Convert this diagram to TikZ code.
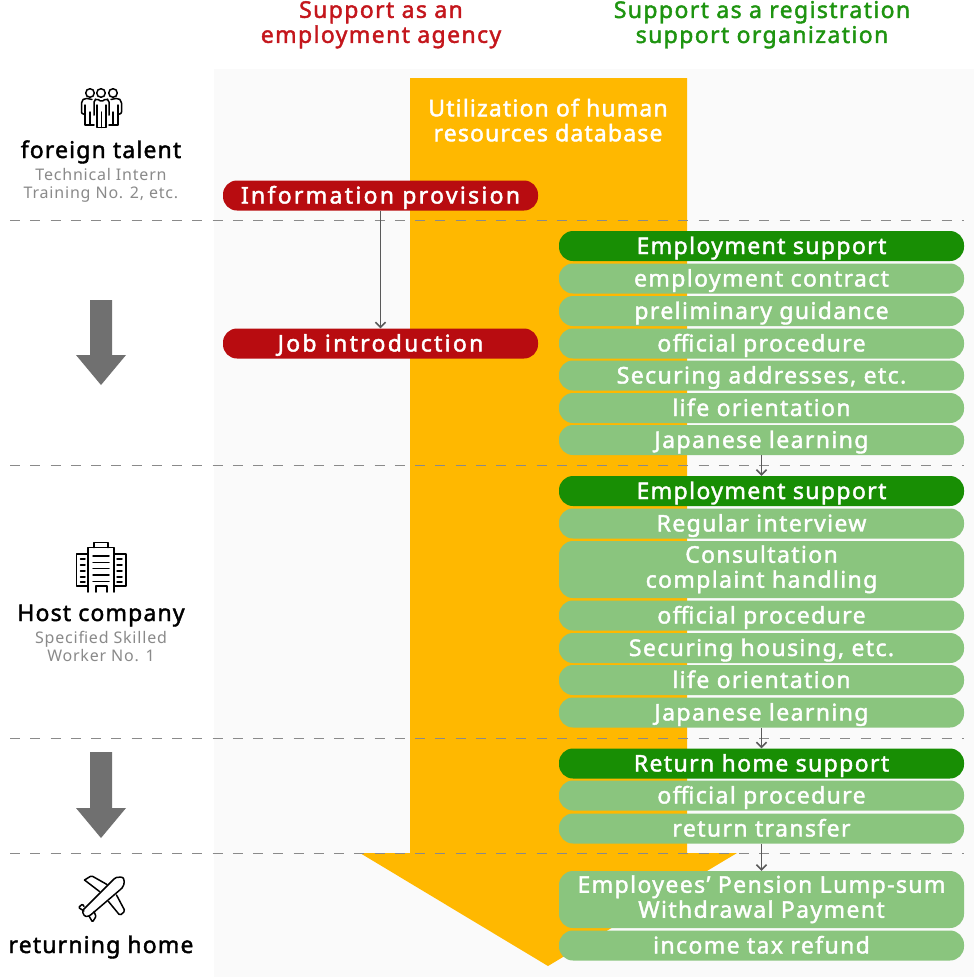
\documentclass[tikz,border=0pt]{standalone}
\usepackage{fontspec}
\usetikzlibrary{arrows.meta}
\setmainfont{Noto Sans}[LetterSpace=5]
\newfontfamily\barfont{Noto Sans}[LetterSpace=6,FakeBold=1.8]
\newfontfamily\redfont{Noto Sans}[LetterSpace=10,FakeBold=2]
\newfontfamily\sidefont{Noto Sans}[LetterSpace=5,FakeBold=1.8]
\definecolor{panelgray}{HTML}{FAFAFA}
\definecolor{dbyellow}{HTML}{FFB800}
\definecolor{agencyred}{HTML}{B80C10}
\definecolor{supportgreen}{HTML}{188E04}
\definecolor{taskgreen}{HTML}{8AC57E}
\definecolor{headred}{HTML}{C4161C}
\definecolor{headgreen}{HTML}{1E9410}
\definecolor{blockgray}{HTML}{707070}
\definecolor{subgray}{HTML}{8A8A8A}
\tikzset{
  barbase/.style={rectangle,rounded corners=14,inner sep=0pt,align=center,text=white,
    font=\barfont\fontsize{23}{25}\selectfont,
    execute at begin node=\rule[-6pt]{0pt}{28pt}},
  redbar/.style={barbase,font=\redfont\fontsize{23}{25}\selectfont,fill=agencyred,minimum width=315,minimum height=30},
  headbar/.style={barbase,fill=supportgreen,minimum width=405,minimum height=30},
  taskbar/.style={barbase,fill=taskgreen,minimum width=405,minimum height=30},
  tallbar/.style={taskbar,minimum height=57,execute at begin node=\rule[-6pt]{0pt}{32pt}},
  collabel/.style={align=center,inner sep=0pt,font=\barfont\fontsize{23}{25}\selectfont,
    execute at begin node=\rule[-6pt]{0pt}{30pt}},
  sidelabel/.style={inner sep=0pt,text=black,font=\sidefont\fontsize{23}{25}\selectfont,
    execute at begin node=\rule[-6pt]{0pt}{28pt}},
  sublabel/.style={align=center,inner sep=0pt,text=subgray,font=\fontsize{16}{18}\selectfont},
  sepline/.style={draw=subgray,line width=1.2pt,dash pattern=on 10.2pt off 10.05pt},
  flowline/.style={draw=black!65,line width=1.6pt,-{Straight Barb[length=5pt,width=10pt]}},
  iconline/.style={draw=black,line width=1.5pt,line join=round,line cap=round}
}
\begin{document}
\begin{tikzpicture}[x=1pt,y=-1pt]
\useasboundingbox (0,0) rectangle (974,977);
\fill[white] (0,0) rectangle (974,977);
\fill[panelgray] (214,69) rectangle (974,977);
\fill[dbyellow] (410,78) -- (687,78) -- (687,853) -- (737,853) -- (548,966) -- (360,853) -- (410,853) -- cycle;

\draw[sepline] (10,220.5) -- (964,220.5);
\draw[sepline] (10,465.5) -- (964,465.5);
\draw[sepline] (10,738.5) -- (964,738.5);
\draw[sepline] (10,853.5) -- (964,853.5);

\fill[blockgray] (90,300) -- (112,300) -- (112,355) -- (126,355) -- (101,385) -- (76,355) -- (90,355) -- cycle;
\fill[blockgray] (90,752) -- (112,752) -- (112,808) -- (126,808) -- (101,838) -- (76,808) -- (90,808) -- cycle;

\node[collabel,text=headred] (agencyhead) at (381,25) {Support as an\\employment agency};
\node[collabel,text=headgreen] (supporthead) at (762,25) {Support as a registration\\support organization};
\node[collabel,font=\sidefont\fontsize{23}{25}\selectfont,text=white] (database) at (548,123) {Utilization of human\\resources database};

\node[sidelabel] (talent) at (101,150) {foreign talent};
\node[sublabel] (talentsub) at (101,185) {Technical Intern\\Training No. 2, etc.};
\node[sidelabel] (host) at (101,613) {Host company};
\node[sublabel] (hostsub) at (101,646) {Specified Skilled\\Worker No. 1};
\node[sidelabel] (returning) at (101,945) {returning home};

\node[redbar] (info) at (380.5,195.5) {Information provision};
\node[redbar] (job) at (380.5,343.5) {Job introduction};

\node[headbar] (emp1) at (761.5,246) {Employment support};
\node[taskbar] (contract) at (761.5,278.5) {employment contract};
\node[taskbar] (guidance) at (761.5,311) {preliminary guidance};
\node[taskbar] (proc1) at (761.5,343.5) {official procedure};
\node[taskbar] (address) at (761.5,375.5) {Securing addresses, etc.};
\node[taskbar] (life1) at (761.5,408) {life orientation};
\node[taskbar] (japan1) at (761.5,440) {Japanese learning};

\node[headbar] (emp2) at (761.5,491) {Employment support};
\node[taskbar] (interview) at (761.5,523.5) {Regular interview};
\node[tallbar] (consult) at (761.5,569.5) {Consultation\\complaint handling};
\node[taskbar] (proc2) at (761.5,615.5) {official procedure};
\node[taskbar] (housing) at (761.5,648) {Securing housing, etc.};
\node[taskbar] (life2) at (761.5,680) {life orientation};
\node[taskbar] (japan2) at (761.5,712.5) {Japanese learning};

\node[headbar] (back) at (761.5,763.5) {Return home support};
\node[taskbar] (proc3) at (761.5,795.5) {official procedure};
\node[taskbar] (transfer) at (761.5,828.5) {return transfer};

\node[tallbar] (pension) at (761.5,899.5) {Employees’ Pension Lump-sum\\Withdrawal Payment};
\node[taskbar] (refund) at (761.5,945.5) {income tax refund};

\draw[flowline] (info.south) -- (job.north);
\draw[flowline] (japan1.south) -- (emp2.north);
\draw[flowline] (japan2.south) -- (back.north);
\draw[flowline] (transfer.south) -- (pension.north);

\draw[iconline] (90,93) circle (4.3);
\draw[iconline] (101,93) circle (4.3);
\draw[iconline] (113,93) circle (4.3);
\draw[iconline,rounded corners=2] (94,115) -- (94,100) -- (97,98.5) -- (101.5,102) -- (106,98.5) -- (109,100) -- (109,115);
\draw[iconline] (97,105) -- (97,127.5) -- (106,127.5) -- (106,105) (101.5,112) -- (101.5,127.5);
\draw[iconline,rounded corners=2] (92,99.5) -- (85,98) -- (81.5,101) -- (81.5,114) -- (85,114);
\draw[iconline] (85,105) -- (85,125) -- (94,125) (90,112) -- (90,125);
\draw[iconline,rounded corners=2] (111,99.5) -- (118,98) -- (121.5,101) -- (121.5,114) -- (118,114);
\draw[iconline] (118,105) -- (118,125) -- (109,125) (113,112) -- (113,125);

\draw[iconline] (94,547.5) -- (94,542.5) -- (108,542.5) -- (108,547.5);
\draw[iconline] (88,592) -- (88,547.5) -- (114,547.5) -- (114,592);
\draw[iconline] (88,554) -- (76.5,554) -- (76.5,586) -- (88,586);
\draw[iconline] (114,554) -- (126,554) -- (126,586) -- (114,586);
\draw[iconline] (93,556) -- (109,556) (93,562.5) -- (109,562.5) (93,568.5) -- (109,568.5) (93,575) -- (109,575) (93,581.5) -- (109,581.5);
\draw[iconline] (96,592) -- (96,586) -- (107,586) -- (107,592);
\draw[iconline] (80.5,559) -- (85,559) (80.5,565) -- (85,565) (80.5,571) -- (85,571) (80.5,577) -- (85,577) (80.5,582) -- (85,582);
\draw[iconline] (117,559) -- (122,559) (117,565) -- (122,565) (117,571) -- (122,571) (117,577) -- (122,577) (117,582) -- (122,582);

\draw[iconline,rounded corners=1.5] (84.5,880) -- (91.5,875.7) -- (107,884.5);
\draw[iconline,rounded corners=1.5] (99.5,891.5) -- (84.5,880);
\draw[iconline,rounded corners=1.5] (116.5,895) -- (125,911) -- (120,915.5) -- (108.5,901.5);
\draw[iconline,rounded corners=1.5] (115,878) .. controls (119,876.5) and (123,877) .. (124,880) .. controls (124.5,883) and (123.5,886.5) .. (121,889) -- (90,915.5) .. controls (87,917) and (84.5,916) .. (83.5,914) .. controls (82.5,912) and (83,910) .. (84,909) -- cycle;
\draw[iconline,rounded corners=1] (84,906.5) -- (82.5,904) -- (78.5,907.5) -- (84,911);
\draw[iconline,rounded corners=1] (89,916) -- (92.5,922) -- (96,916.5) -- (94,911.5);
\end{tikzpicture}
\end{document}
